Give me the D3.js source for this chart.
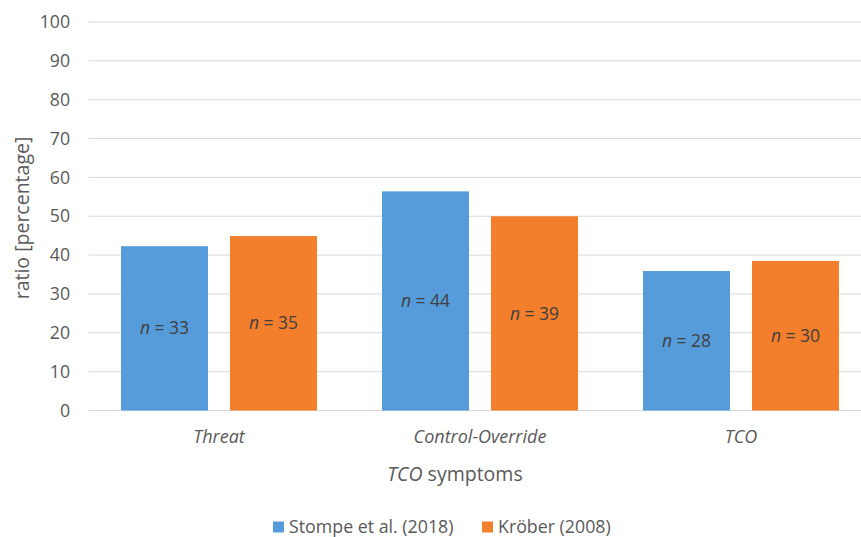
<!DOCTYPE html>
<html><head><meta charset="utf-8">
<script src="https://cdn.jsdelivr.net/npm/d3@7"></script>
<style>body{margin:0;background:#fff}svg{display:block;font-family:"Open Sans","Noto Sans",sans-serif}</style>
</head><body><svg id="c" width="861" height="537"></svg>
<script>
const categories = ["Threat", "Control-Override", "TCO"];
const seriesNames = ["Stompe et al. (2018)", "Kröber (2008)"];
const stompe = [42.3, 56.4, 35.9];
const kroeber = [44.9, 50.0, 38.5];
const stompeN = [33, 44, 28];
const kroeberN = [35, 39, 30];
const yTicks = [0, 10, 20, 30, 40, 50, 60, 70, 80, 90, 100];
const colors = ["#579CDA", "#F37E2C"];

const svg = d3.select("#c");
const mLeft = 88.5, mRight = 871.5, mTop = 22, mBottom = 410.5;
const x = d3.scaleBand().domain(categories).range([mLeft, mRight]).paddingInner(0).paddingOuter(0);
const y = d3.scaleLinear().domain([0, 100]).range([mBottom, mTop]);
const bw = 87, gap = 22;

// gridlines
svg.append("g").selectAll("line").data(yTicks).join("line")
  .attr("x1", mLeft).attr("x2", 861).attr("y1", d => y(d)).attr("y2", d => y(d))
  .attr("stroke", "#d9d9d9").attr("stroke-width", 1);

// y tick labels
svg.append("g").selectAll("text").data(yTicks).join("text")
  .attr("x", 70).attr("y", d => y(d)).attr("dy", "0.35em")
  .attr("text-anchor", "end").attr("fill", "#595959").attr("font-size", 17.7)
  .text(d => d);

const rows = [];
categories.forEach((c, i) => {
  rows.push({c, s: 0, v: stompe[i], n: stompeN[i]});
  rows.push({c, s: 1, v: kroeber[i], n: kroeberN[i]});
});
const bx = d => x(d.c) + x.bandwidth() / 2 + (d.s === 0 ? -(gap / 2 + bw) : gap / 2);

svg.append("g").selectAll("rect").data(rows).join("rect")
  .attr("x", bx).attr("width", bw)
  .attr("y", d => y(d.v)).attr("height", d => y(0) - y(d.v))
  .attr("fill", d => colors[d.s]);

const lab = svg.append("g").selectAll("text").data(rows).join("text")
  .attr("x", d => bx(d) + bw / 2)
  .attr("y", d => (y(d.v) + y(0)) / 2).attr("dy", "0.35em")
  .attr("text-anchor", "middle").attr("fill", "#404040").attr("font-size", 17.5);
lab.append("tspan").attr("font-style", "italic").text("n");
lab.append("tspan").text(d => " = " + d.n);

// category labels
svg.append("g").selectAll("text").data(categories).join("text")
  .attr("x", d => x(d) + x.bandwidth() / 2).attr("y", 437).attr("dy", "0.35em")
  .attr("text-anchor", "middle").attr("font-style", "italic")
  .attr("fill", "#595959").attr("font-size", 18).text(d => d);

// axis titles
const xt = svg.append("text").attr("x", 455).attr("y", 474).attr("dy", "0.35em")
  .attr("text-anchor", "middle").attr("fill", "#595959").attr("font-size", 19.5);
xt.append("tspan").attr("font-style", "italic").text("TCO");
xt.append("tspan").text(" symptoms");

svg.append("text").attr("transform", "translate(22,218) rotate(-90)")
  .attr("dy", "0.35em").attr("text-anchor", "middle").attr("fill", "#595959")
  .attr("font-size", 19.5).text("ratio [percentage]");

// legend
const legX = [273, 482];
const lg = svg.append("g").selectAll("g").data(seriesNames).join("g")
  .attr("transform", (d, i) => "translate(" + legX[i] + ",527)");
lg.append("rect").attr("x", 0).attr("y", -5.5).attr("width", 11).attr("height", 11)
  .attr("fill", (d, i) => colors[i]);
lg.append("text").attr("x", 16).attr("dy", "0.35em").attr("fill", "#595959")
  .attr("font-size", 17.8).text(d => d);
</script></body></html>
